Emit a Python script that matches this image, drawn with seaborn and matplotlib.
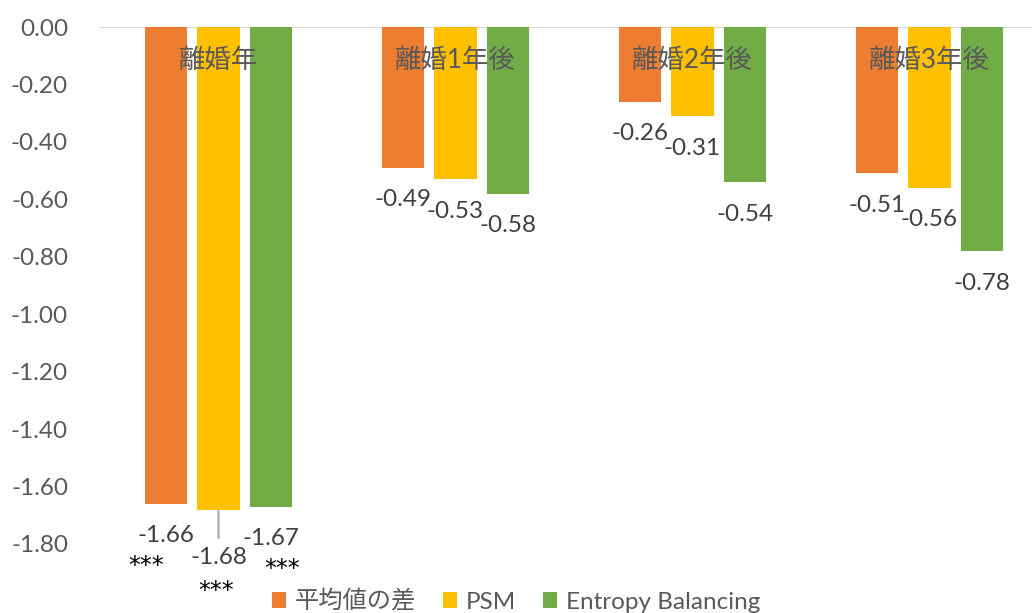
import pandas as pd
import numpy as np
import matplotlib
matplotlib.use('Agg')
import matplotlib.pyplot as plt
from matplotlib.ticker import FormatStrFormatter
import seaborn as sns

CATEGORIES = ["離婚年", "離婚1年後", "離婚2年後", "離婚3年後"]
SERIES = ["平均値の差", "PSM", "Entropy Balancing"]
MEAN_DIFF = [-1.66, -0.49, -0.26, -0.51]
PSM = [-1.68, -0.53, -0.31, -0.56]
ENTROPY = [-1.67, -0.58, -0.54, -0.78]
STARS = {"平均値の差": ["***", "", "", ""],
         "PSM": ["***", "", "", ""],
         "Entropy Balancing": ["***", "", "", ""]}
COLORS = ["#ED7D31", "#FFC000", "#70AD47"]
Y_TICKS = np.round(np.arange(0, -1.81, -0.2), 2)

rows = []
for name, vals in zip(SERIES, [MEAN_DIFF, PSM, ENTROPY]):
    for cat, v in zip(CATEGORIES, vals):
        rows.append({"cat": cat, "series": name, "value": v})
df = pd.DataFrame(rows)

sns.set_style("white")
plt.rcParams['font.family'] = ['Lato', 'Noto Sans CJK JP']

fig = plt.figure(figsize=(10.32, 6.13), dpi=100)
ax = fig.add_axes([100 / 1032, 69 / 613, 948 / 1032, 517 / 613])

sns.barplot(data=df, x="cat", y="value", hue="series", hue_order=SERIES,
            palette=COLORS, width=0.66, gap=0.19, saturation=1,
            edgecolor="none", ax=ax, legend=True)

ax.set_ylim(-1.8, 0)
ax.set_xlim(-0.5, len(CATEGORIES) - 0.5)
ax.set_yticks(Y_TICKS)
ax.yaxis.set_major_formatter(FormatStrFormatter('%.2f'))
ax.tick_params(axis='y', length=0, pad=23, labelsize=17.5, labelcolor="#595959")
ax.tick_params(axis='x', bottom=False, labelbottom=False)
ax.set_xlabel("")
ax.set_ylabel("")
for s in ax.spines.values():
    s.set_visible(False)
ax.axhline(0, color="#D9D9D9", lw=1.5, zorder=0)

# category names inside the plot
for i, cat in enumerate(CATEGORIES):
    ax.text(i, -0.115, cat, ha="center", va="center", fontsize=19, color="#595959", zorder=5)

# value labels
for si, (cont, name) in enumerate(zip(ax.containers, SERIES)):
    for ci, bar in enumerate(cont.patches):
        x = bar.get_x() + bar.get_width() / 2
        v = bar.get_height()
        if ci == 0 and name == "PSM":
            ax.annotate(f"{v:.2f}", xy=(x, v), xytext=(0, -48), textcoords="offset pixels",
                        ha="center", va="center", fontsize=17.5, color="#404040",
                        arrowprops=dict(arrowstyle="-", color="#A6A6A6", lw=1.5,
                                        shrinkA=4, shrinkB=1))
            star_dx, star_dy = -2, -81
        else:
            ax.annotate(f"{v:.2f}", xy=(x, v), xytext=(0, -32), textcoords="offset pixels",
                        ha="center", va="center", fontsize=17.5, color="#404040")
            star_dx, star_dy = (-20 if si == 0 else 11), -62
        star = STARS[name][ci]
        if star:
            ax.annotate(star, xy=(x, v), xytext=(star_dx, star_dy), textcoords="offset pixels",
                        ha="center", va="center", fontsize=17, color="black",
                        family="DejaVu Sans")

leg = ax.legend(loc="center", bbox_to_anchor=(516 / 1032, 1 - 601 / 613),
                bbox_transform=fig.transFigure, ncol=3, frameon=False,
                fontsize=17.5, handlelength=0.6, handleheight=0.6,
                handletextpad=0.35, columnspacing=1.1)
for t in leg.get_texts():
    t.set_color("#595959")

fig.savefig("out.png", dpi=100)
